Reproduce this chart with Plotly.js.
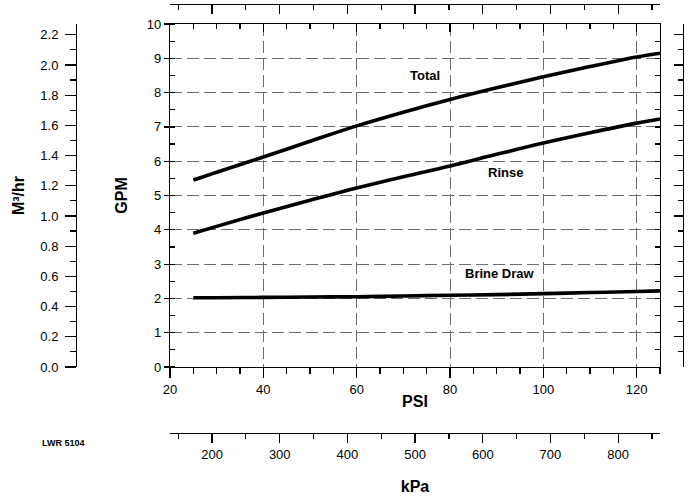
<!DOCTYPE html>
<html>
<head>
<meta charset="utf-8">
<script src="https://cdn.plot.ly/plotly-3.0.1.min.js"></script>
<style>html,body{margin:0;padding:0;background:#fff;}#chart{width:691px;height:499px;}</style>
</head>
<body>
<div id="chart"></div>
<script>
// Data (PSI vs GPM)
var psi = [25, 30, 40, 50, 60, 70, 80, 90, 100, 110, 120, 125];
var totalGpm = [5.45, 5.68, 6.12, 6.58, 7.03, 7.43, 7.80, 8.14, 8.46, 8.76, 9.04, 9.15];
var rinseGpm = [3.90, 4.10, 4.49, 4.86, 5.22, 5.55, 5.86, 6.20, 6.53, 6.83, 7.11, 7.23];
var brineGpm = [2.02, 2.02, 2.03, 2.04, 2.05, 2.07, 2.09, 2.11, 2.14, 2.17, 2.20, 2.22];
var seriesNames = ["Total", "Rinse", "Brine Draw"];
var labelPsi = [74.6, 91.8, 90.7];
var labelGpm = [8.5, 5.66, 2.74];

var psiRange = [20, 125];
var gpmRange = [0, 10];
var KPA_PER_PSI = 6.89476;
var M3H_PER_GPM = 0.227125;
var kpaRange = [psiRange[0] * KPA_PER_PSI, psiRange[1] * KPA_PER_PSI];
var m3hRange = [gpmRange[0] * M3H_PER_GPM, gpmRange[1] * M3H_PER_GPM];

var FONT = "Arial, 'Liberation Sans', sans-serif";
var lineStyle = {color: "#000", width: 3.6, shape: "spline", smoothing: 1};

var data = [
  {x: psi, y: totalGpm, name: seriesNames[0], mode: "lines", line: lineStyle, hoverinfo: "skip"},
  {x: psi, y: rinseGpm, name: seriesNames[1], mode: "lines", line: lineStyle, hoverinfo: "skip"},
  {x: psi, y: brineGpm, name: seriesNames[2], mode: "lines", line: lineStyle, hoverinfo: "skip"}
];

var annotations = seriesNames.map(function (n, i) {
  return {x: labelPsi[i], y: labelGpm[i], xref: "x", yref: "y", text: "<b>" + n + "</b>",
    showarrow: false, font: {family: FONT, size: 13, color: "#000"}};
});
annotations.push({x: -0.02, y: -0.023, xref: "paper", yref: "paper", text: "<b>LWR 5104</b>",
  showarrow: false, xanchor: "center", yanchor: "middle", font: {family: FONT, size: 9, color: "#000"}});

var tickFont = {family: FONT, size: 13, color: "#000"};
var titleFont = {family: FONT, size: 16, color: "#000", weight: "bold"};
var xDom = [(170 - 76) / 607, (660 - 76) / 607];
var yDom = [(433 - 367) / 429, (433 - 24) / 429];

var layout = {
  width: 691, height: 499,
  margin: {l: 76, r: 8, t: 4, b: 66, pad: 0},
  paper_bgcolor: "#fff", plot_bgcolor: "#fff",
  showlegend: false,
  font: {family: FONT, color: "#000"},
  annotations: annotations,
  xaxis: {
    domain: xDom, range: psiRange, dtick: 20, tick0: 0,
    showline: true, linecolor: "#000", linewidth: 1.2, mirror: true,
    ticks: "outside", ticklen: 10, tickcolor: "#000", tickwidth: 1.2,
    minor: {dtick: 5, ticks: "outside", ticklen: 6, tickcolor: "#000", showgrid: false},
    showgrid: true, gridcolor: "#6e6e6e", gridwidth: 1, griddash: "12px,5px",
    zeroline: false, tickfont: tickFont,
    title: {text: "PSI", font: titleFont, standoff: 0},
    automargin: false
  },
  yaxis: {
    domain: yDom, range: gpmRange, dtick: 1,
    showline: true, linecolor: "#000", linewidth: 1.2, mirror: true,
    ticks: "outside", ticklen: 5, tickcolor: "#000", tickwidth: 1.2,
    minor: {dtick: 0.5, ticks: "inside", ticklen: 5, tickcolor: "#000", showgrid: false},
    showgrid: true, gridcolor: "#6e6e6e", gridwidth: 1, griddash: "12px,5px",
    zeroline: false, tickfont: tickFont,
    title: {text: "GPM", font: titleFont, standoff: 15},
    automargin: false
  },
  // top mirror of PSI axis, ticks pointing into the plot
  xaxis2: {
    overlaying: "x", anchor: "y", side: "top", range: psiRange, dtick: 20, tick0: 0,
    showline: false, showgrid: false, zeroline: false, showticklabels: false,
    ticks: "inside", ticklen: 8, tickcolor: "#000", tickwidth: 1.2,
    minor: {dtick: 5, ticks: "inside", ticklen: 5, tickcolor: "#000", showgrid: false}
  },
  // right mirror of GPM axis
  yaxis2: {
    overlaying: "y", anchor: "x", side: "right", range: gpmRange, dtick: 1,
    showline: false, showgrid: false, zeroline: false, showticklabels: false,
    ticks: "inside", ticklen: 5, tickcolor: "#000", tickwidth: 1.2,
    minor: {dtick: 0.5, ticks: "inside", ticklen: 5, tickcolor: "#000", showgrid: false}
  },
  // kPa axis, bottom
  xaxis3: {
    overlaying: "x", anchor: "free", position: 0, side: "bottom", range: kpaRange, dtick: 100, tick0: 0,
    showline: true, linecolor: "#000", linewidth: 1.2, showgrid: false, zeroline: false,
    ticks: "outside", ticklen: 9, tickcolor: "#000", tickwidth: 1.2,
    minor: {dtick: 50, ticks: "outside", ticklen: 5, tickcolor: "#000", showgrid: false},
    tickfont: tickFont,
    title: {text: "kPa", font: titleFont, standoff: 20}
  },
  // kPa axis, top (no labels)
  xaxis4: {
    overlaying: "x", anchor: "free", position: 1, side: "top", range: kpaRange, dtick: 100, tick0: 0,
    showline: true, linecolor: "#000", linewidth: 1.2, showgrid: false, zeroline: false,
    ticks: "inside", ticklen: 9, tickcolor: "#000", tickwidth: 1.2,
    minor: {dtick: 50, ticks: "inside", ticklen: 5, tickcolor: "#000", showgrid: false},
    showticklabels: false
  },
  // M3/hr axis, left
  yaxis3: {
    overlaying: "y", anchor: "free", position: 0, side: "left", range: m3hRange, dtick: 0.2, tick0: 0,
    tickformat: ".1f", ticklabelstandoff: 4,
    showline: true, linecolor: "#000", linewidth: 1.2, showgrid: false, zeroline: false,
    ticks: "outside", ticklen: 11, tickcolor: "#000", tickwidth: 1.2,
    minor: {dtick: 0.1, ticks: "outside", ticklen: 6, tickcolor: "#000", showgrid: false},
    tickfont: tickFont,
    title: {text: "M³/hr", font: titleFont, standoff: 10}
  },
  // M3/hr axis, right (no labels)
  yaxis4: {
    overlaying: "y", anchor: "free", position: 1, side: "right", range: m3hRange, dtick: 0.2, tick0: 0,
    showline: true, linecolor: "#000", linewidth: 1.2, showgrid: false, zeroline: false,
    ticks: "inside", ticklen: 9, tickcolor: "#000", tickwidth: 1.2,
    minor: {dtick: 0.1, ticks: "inside", ticklen: 5, tickcolor: "#000", showgrid: false},
    showticklabels: false
  }
};

// invisible empty traces so the overlay axes are drawn
var axisPairs = [["x2", "y2"], ["x3", "y3"], ["x4", "y4"]];
axisPairs.forEach(function (p) {
  data.push({x: [], y: [], xaxis: p[0], yaxis: p[1], mode: "lines", showlegend: false, hoverinfo: "skip"});
});

Plotly.newPlot("chart", data, layout, {displayModeBar: false, staticPlot: true});
</script>
</body>
</html>
